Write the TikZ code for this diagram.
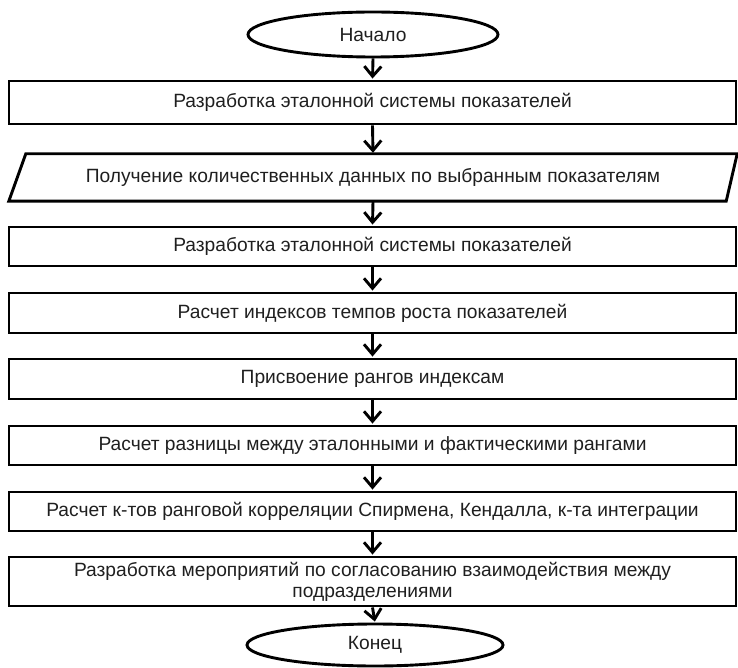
\documentclass[tikz,border=0pt]{standalone}
\usepackage{fontspec}
\setmainfont{Liberation Sans}
\usetikzlibrary{shapes.geometric,arrows.meta}
\begin{document}
\begin{tikzpicture}[x=1pt,y=-1pt,
  every node/.style={font=\fontsize{19.2}{21}\selectfont, text=black!88, inner sep=0pt, align=center},
  outline/.style={line width=2.9pt, draw=black},
  stepbox/.style={outline, rectangle, minimum width=727pt, minimum height=43pt},
  term/.style={outline, ellipse, minimum width=250pt, minimum height=45pt},
  flow/.style={line width=2.9pt, -{Straight Barb[length=10pt,width=17pt,line width=2.9pt]}, shorten >=1pt}
]
\useasboundingbox (0,0) rectangle (738,668);

% start / end terminals
\node[term] (start) at (373,34.5) {Начало};
\node[term, minimum width=256pt, minimum height=42pt] (stop) at (375,645) {Конец};

% process steps
\node[stepbox] (b1) at (372.5,102.5) {Разработка эталонной системы показателей};
\node[rectangle, minimum width=728pt, minimum height=47pt] (io) at (373,177.5)
  {Получение количественных данных по выбранным показателям};
\draw[outline, line join=miter]
  ([xshift=17pt]io.north west) -- (io.north east) -- ([xshift=-11pt]io.south east)
  -- (io.south west) -- cycle;
\node[stepbox, minimum height=39pt] (b3) at (372.5,246.5) {Разработка эталонной системы показателей};
\node[stepbox, minimum height=40pt] (b4) at (372.5,313) {Расчет индексов темпов роста показателей};
\node[stepbox, minimum height=40pt] (b5) at (372.5,379) {Присвоение рангов индексам};
\node[stepbox, minimum height=39pt] (b6) at (372.5,445.5) {Расчет разницы между эталонными и фактическими рангами};
\node[stepbox, minimum height=39pt] (b7) at (372.5,511.5) {Расчет к-тов ранговой корреляции Спирмена, Кендалла, к-та интеграции};
\node[stepbox, minimum height=49pt] (b8) at (372.5,581.5)
  {Разработка мероприятий по согласованию взаимодействия между\\подразделениями};

% connectors
\draw[flow] (start.south) -- (b1.north);
\draw[flow] (b1.south) -- (io.north);
\draw[flow] (io.south) -- (b3.north);
\draw[flow] (b3.south) -- (b4.north);
\draw[flow] (b4.south) -- (b5.north);
\draw[flow] (b5.south) -- (b6.north);
\draw[flow] (b6.south) -- (b7.north);
\draw[flow] (b7.south) -- (b8.north);
\draw[flow] (b8.south) -- (stop.north);
\end{tikzpicture}
\end{document}
